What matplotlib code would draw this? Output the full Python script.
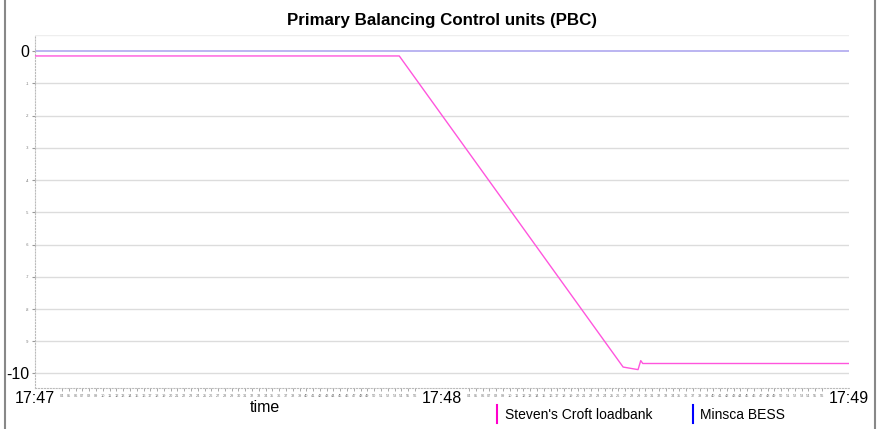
import matplotlib
matplotlib.use("Agg")
import matplotlib.pyplot as plt
from matplotlib.lines import Line2D

# seconds after 17:47:00
loadbank_t = [0, 53.7, 86.7, 88.9, 89.3, 89.6, 120]
loadbank_v = [-0.15, -0.15, -9.80, -9.88, -9.60, -9.69, -9.69]
bess_t = [0, 120]
bess_v = [0.0, 0.0]

major_ticks = [0, 60, 120]
major_labels = ["17:47", "17:48", "17:49"]
y_ticks = [0, -1, -2, -3, -4, -5, -6, -7, -8, -9, -10]

plt.rcParams['font.family'] = ['Liberation Sans', 'DejaVu Sans']

fig = plt.figure(figsize=(8.78, 4.29), dpi=100)
ax = fig.add_axes([35/878, 1-388/429, (849-35)/878, (388-35)/429])

ax.set_xlim(0, 120)
ax.set_ylim(-10.45, 0.5)

for y in y_ticks[1:]:
    ax.axhline(y, color='#dcdcdc', lw=1.0, zorder=0)
ax.axhline(0.5, color='#eeeeee', lw=1.0, zorder=0)

ax.plot(bess_t, bess_v, color='#a8a0ee', lw=1.1, zorder=2)
ax.plot(loadbank_t, loadbank_v, color='#ff55dd', lw=1.0, zorder=3)

# y axis: large labels at 0 and -10, tiny ones in between
ax.set_yticks(y_ticks)
ax.set_yticklabels([str(v) for v in y_ticks])
for lbl, v in zip(ax.get_yticklabels(), y_ticks):
    if v in (0, -10):
        lbl.set_fontsize(11.5)
    else:
        lbl.set_fontsize(2.8)
        lbl.set_color('#777777')
ax.tick_params(axis='y', length=2, color='#999999', pad=2)

# x axis: major minute labels, tiny second labels
ax.set_xticks(major_ticks)
ax.set_xticklabels(major_labels, fontsize=11.5)
ax.tick_params(axis='x', length=0, pad=2)
sec_ticks = [s for s in range(120) if s % 60 not in (0, 1, 2, 3, 57, 58, 59)]
ax.set_xticks(sec_ticks, minor=True)
ax.set_xticklabels(["%02d" % (s % 60) for s in sec_ticks], minor=True,
                   fontsize=2.8, color='#777777')
ax.tick_params(axis='x', which='minor', length=2, color='#999999', pad=2)

for side in ('top', 'right'):
    ax.spines[side].set_visible(False)
for side in ('left', 'bottom'):
    ax.spines[side].set_color('#bbbbbb')
    ax.spines[side].set_linestyle(':')
    ax.spines[side].set_linewidth(0.8)

fig.text(442/878, 1-20/429, "Primary Balancing Control units (PBC)",
         ha='center', va='center', fontsize=12.2, fontweight='bold')
fig.text(265/878, 1-408/429, "time", ha='center', va='center', fontsize=11.5)

# legend entries drawn as coloured bars with labels
fig.add_artist(Line2D([497/878, 497/878], [1-423/429, 1-405/429],
                      color='#ff00cc', lw=1.5))
fig.text(505/878, 1-415/429, "Steven's Croft loadbank", ha='left',
         va='center', fontsize=10)
fig.add_artist(Line2D([693/878, 693/878], [1-423/429, 1-405/429],
                      color='#0000ff', lw=1.5))
fig.text(700/878, 1-415/429, "Minsca BESS", ha='left', va='center',
         fontsize=10)

# frame lines on both sides
fig.add_artist(Line2D([5/878, 5/878], [0, 1], color='#888888', lw=1.5))
fig.add_artist(Line2D([875/878, 875/878], [0, 1], color='#888888', lw=1.5))

fig.savefig("out.png", dpi=100)
